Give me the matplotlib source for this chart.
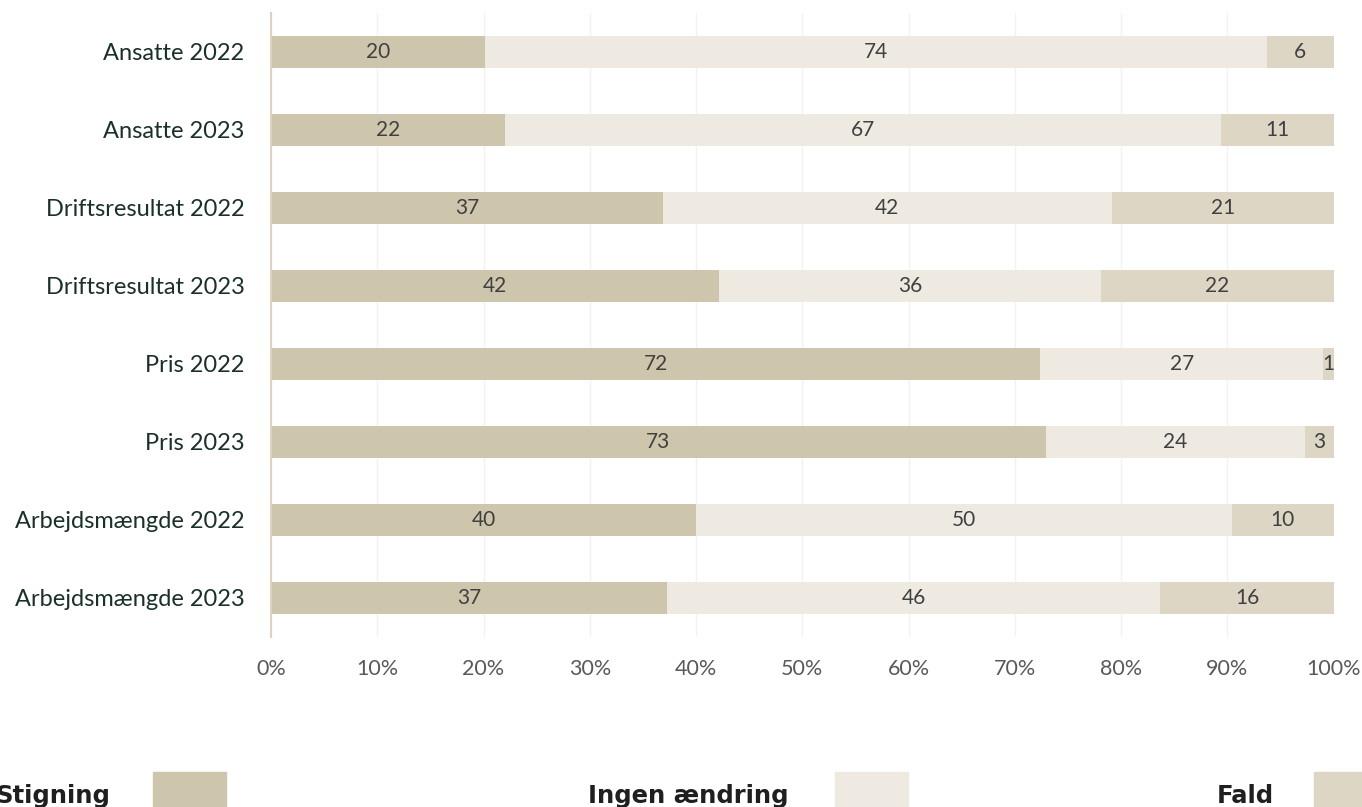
import matplotlib
matplotlib.use("Agg")
import matplotlib.pyplot as plt
from matplotlib.patches import Rectangle
import numpy as np

categories = ["Ansatte 2022", "Ansatte 2023", "Driftsresultat 2022", "Driftsresultat 2023",
              "Pris 2022", "Pris 2023", "Arbejdsmængde 2022", "Arbejdsmængde 2023"]
stigning = [20.1, 22.0, 36.9, 42.2, 72.4, 72.9, 40.0, 37.3]
ingen = [73.6, 67.4, 42.2, 35.9, 26.6, 24.4, 50.4, 46.4]
fald = [6.4, 10.6, 20.9, 21.9, 1.0, 2.7, 9.6, 16.3]
series_names = ["Stigning", "Ingen ændring", "Fald"]
colors = ["#CDC6AD", "#EEEAE2", "#DDD6C5"]
xticks = [0, 10, 20, 30, 40, 50, 60, 70, 80, 90, 100]
xticklabels = [f"{t}%" for t in xticks]

W, H = 1362, 807
fig = plt.figure(figsize=(W / 100, H / 100), dpi=100)
ax = fig.add_axes([271 / W, 1 - 637 / H, (1333.7 - 271) / W, (637 - 13) / H])

y = np.arange(len(categories))
left = np.zeros(len(categories))
for vals, col in zip([stigning, ingen, fald], colors):
    vals = np.array(vals)
    bars = ax.barh(y, vals, left=left, height=0.4, color=col, zorder=2)
    ax.bar_label(bars, labels=[f"{v:.0f}" for v in vals], label_type="center",
                 fontsize=15, color="#404040", family="Lato")
    left += vals

ax.set_xlim(0, 100)
ax.set_ylim(len(categories) - 0.5, -0.5)
ax.set_yticks(y)
ax.set_yticklabels(categories, fontsize=17, color="#1B3029", family="Lato")
ax.set_xticks(xticks)
ax.set_xticklabels(xticklabels, fontsize=15.5, color="#595959", family="Lato")
ax.tick_params(axis="both", length=0)
ax.tick_params(axis="y", pad=19)
ax.tick_params(axis="x", pad=16)
ax.grid(axis="x", color="#F2F2F2", linewidth=1, zorder=0)
for s in ["top", "right", "bottom"]:
    ax.spines[s].set_visible(False)
ax.spines["left"].set_color("#D9D3C0")
ax.spines["left"].set_linewidth(1.5)
ax.spines["left"].set_zorder(3)

# legend built manually
leg_items = [("Stigning", 110, 153), ("Ingen ændring", 789, 835), ("Fald", 1274, 1314)]
for (name, text_right, sq_left), col in zip(leg_items, colors):
    fig.text(text_right / W, 1 - 803 / H, name, ha="right", va="baseline",
             fontsize=17.5, fontweight="bold", color="#1F1F1F", family="DejaVu Sans")
    fig.patches.append(Rectangle((sq_left / W, 1 - 845 / H), 73 / W, 73 / H,
                                 transform=fig.transFigure, color=col, figure=fig))

fig.savefig("out.png", dpi=100)
